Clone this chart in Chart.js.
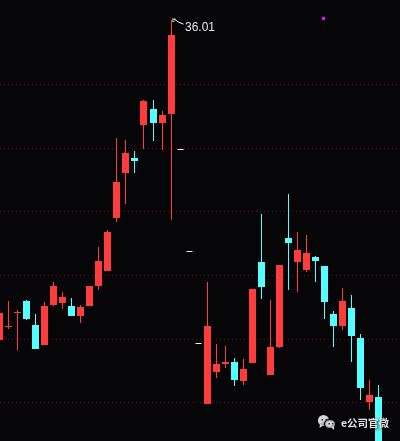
<!DOCTYPE html>
<html lang="en">
<head>
  <meta charset="UTF-8" />
  <title>K-line</title>
  <script src="https://cdn.jsdelivr.net/npm/chart.js"></script>
  <style>
    html, body { margin: 0; padding: 0; background: #060609; overflow: hidden; }
    canvas { display: block; }
  </style>
</head>
<body>
  <canvas id="kline" width="400" height="441"></canvas>

  <script>
    const opens = [30.989, 31.193, 31.413, 31.601, 31.224, 30.910, 31.538, 31.570, 31.523, 31.366, 31.523,
      31.837, 32.072, 32.904, 33.611, 33.846, 34.364, 34.615, 34.396, 34.537, 33.987, 32.386, 30.942,
      29.984, 30.487, 30.612, 30.643, 30.345, 30.628, 32.213, 30.439, 30.879, 32.590, 32.213, 32.088,
      32.292, 32.151, 31.397, 31.209, 31.491, 31.020, 30.016, 30.094];
    const closes = [31.413, 31.209, 31.428, 31.319, 30.848, 31.523, 31.837, 31.664, 31.366, 31.507, 31.837,
      32.229, 32.684, 33.469, 33.925, 33.799, 34.741, 34.396, 34.521, 35.777, 33.972, 32.370, 30.926,
      31.209, 30.612, 30.643, 30.361, 30.534, 31.790, 31.821, 30.879, 32.166, 32.512, 32.402, 32.355,
      32.229, 31.585, 31.209, 31.601, 31.052, 30.235, 30.125, 29.340];
    const highs = [31.413, 31.601, 31.460, 31.617, 31.397, 31.585, 31.899, 31.742, 31.648, 31.538, 31.837,
      32.449, 32.716, 34.160, 34.129, 33.956, 34.757, 34.757, 34.584, 36.01, 33.987, 32.386, 30.942,
      31.899, 30.926, 30.895, 30.706, 30.691, 31.790, 32.967, 31.617, 32.166, 33.281, 32.684, 32.637,
      32.308, 32.151, 31.444, 31.805, 31.695, 31.083, 30.361, 30.282];
    const lows = [30.989, 31.162, 30.832, 31.303, 30.848, 30.910, 31.523, 31.476, 31.366, 31.256, 31.523,
      31.774, 32.072, 32.841, 33.124, 33.611, 33.987, 34.113, 33.972, 32.873, 33.972, 32.370, 30.926,
      29.984, 30.392, 30.549, 30.267, 30.282, 30.628, 31.632, 30.439, 30.863, 31.774, 31.742, 32.056,
      31.899, 31.319, 30.879, 31.146, 30.643, 30.047, 29.890, 29.340];
    const flatDays = [20, 21, 22];
    const peakDay = 19;
    const gridPrices = [30, 31, 32, 33, 34, 35];
    const markerDay = [35.88];
    const markerRange = [[36.015, 36.06]];

    const RED = '#ff3c3c';
    const CYAN = '#54ffff';

    const days = opens.map((_, i) => i);
    const normalDays = days.filter(i => !flatDays.includes(i));

    // bars land on fractional pixels, snap them so the candles stay sharp
    const crispBars = {
      id: 'crispBars',
      afterDatasetsUpdate(chart) {
        chart.data.datasets.forEach((_, d) => {
          chart.getDatasetMeta(d).data.forEach(el => {
            el.x = Math.floor(el.x) + 0.5;
            el.y = Math.round(el.y);
            el.base = Math.round(el.base);
          });
        });
      }
    };

    const annotations = {
      id: 'annotations',
      afterDraw(chart) {
        const c = chart.ctx;
        const px = chart.scales.x.getPixelForValue(peakDay);
        const py = chart.scales.y.getPixelForValue(highs[peakDay]);
        const fx = Math.floor(px) + 0.5;

        // flag on top of the highest candle
        c.save();
        c.strokeStyle = '#ffffff';
        c.lineWidth = 1;
        c.beginPath();
        c.moveTo(fx + 0.5, py - 1);
        c.lineTo(fx + 4, py - 1);
        c.moveTo(fx + 0.5, py + 1);
        c.lineTo(fx + 3, py + 1);
        c.moveTo(fx + 3, py - 1);
        c.lineTo(fx + 7, py + 2);
        c.lineTo(fx + 12, py + 4);
        c.stroke();

        c.fillStyle = '#e6e6e6';
        c.font = '12px "Liberation Sans", Arial, sans-serif';
        c.textBaseline = 'alphabetic';
        c.fillText(highs[peakDay].toFixed(2), fx + 13.5, py + 11);
        c.restore();

        // watermark bottom right
        c.save();
        c.shadowColor = 'rgba(0,0,0,0.9)';
        c.shadowBlur = 2;
        c.fillStyle = '#d8d8d8';
        c.beginPath();
        c.ellipse(323.5, 420.5, 5.5, 5.5, 0, 0, Math.PI * 2);
        c.fill();
        c.beginPath();
        c.moveTo(320, 424);
        c.lineTo(319.5, 428);
        c.lineTo(324, 425);
        c.fill();
        c.strokeStyle = '#060609';
        c.lineWidth = 1;
        c.beginPath();
        c.ellipse(330, 424, 5.5, 4.5, 0, 0, Math.PI * 2);
        c.fill();
        c.stroke();
        c.beginPath();
        c.moveTo(331, 427);
        c.lineTo(334, 430);
        c.lineTo(334, 426);
        c.fill();
        c.shadowBlur = 0;
        c.fillStyle = '#2a2a2a';
        [[321.5, 419], [325.5, 419], [328.5, 423], [332, 423]].forEach(p => c.fillRect(p[0], p[1], 1.5, 1.5));
        c.shadowBlur = 3;
        c.shadowOffsetX = 1;
        c.shadowOffsetY = 1;
        c.fillStyle = '#e2e2e2';
        c.font = 'bold 10.5px "Noto Sans CJK SC", sans-serif';
        c.textBaseline = 'alphabetic';
        c.fillText('e公司官微', 341, 427);
        c.restore();
      }
    };

    new Chart(document.getElementById('kline').getContext('2d'), {
      type: 'bar',
      data: {
        datasets: [
          {
            label: 'bodies',
            order: 1,
            barThickness: 7,
            data: normalDays.map(i => ({ x: i, y: [opens[i], closes[i]] })),
            backgroundColor: normalDays.map(i => closes[i] > opens[i] ? RED : CYAN)
          },
          {
            label: 'wicks',
            order: 2,
            barThickness: 1,
            data: normalDays.map(i => ({ x: i, y: [lows[i], highs[i]] })),
            backgroundColor: normalDays.map(i => closes[i] > opens[i] ? RED : CYAN)
          },
          {
            label: 'flat',
            order: 1,
            barThickness: 6,
            data: flatDays.map(i => ({ x: i, y: [opens[i], closes[i]] })),
            backgroundColor: '#f2f2f2'
          },
          {
            label: 'marker',
            order: 1,
            barThickness: 3,
            data: markerDay.map((d, i) => ({ x: d, y: markerRange[i] })),
            backgroundColor: '#ff00ff'
          }
        ]
      },
      options: {
        responsive: false,
        animation: false,
        events: [],
        layout: { padding: 0 },
        // grouped off so every bar sits on its own x, inflate off or 1px wicks come out blurry
        datasets: { bar: { grouped: false, inflateAmount: 0, borderWidth: 0 } },
        plugins: { legend: { display: false }, tooltip: { enabled: false } },
        scales: {
          x: {
            type: 'linear',
            display: false,
            offset: false,
            min: 0.0554,
            max: 44.352
          },
          y: {
            min: 29.403,
            max: 36.3265,
            border: { display: false, dash: [1, 3] },
            afterBuildTicks: axis => { axis.ticks = gridPrices.map(value => ({ value })); },
            afterFit: axis => { axis.width = 0; },
            ticks: { display: false },
            grid: { color: '#7a0000', lineWidth: 1, drawTicks: false }
          }
        }
      },
      plugins: [crispBars, annotations]
    });
  </script>
</body>
</html>
